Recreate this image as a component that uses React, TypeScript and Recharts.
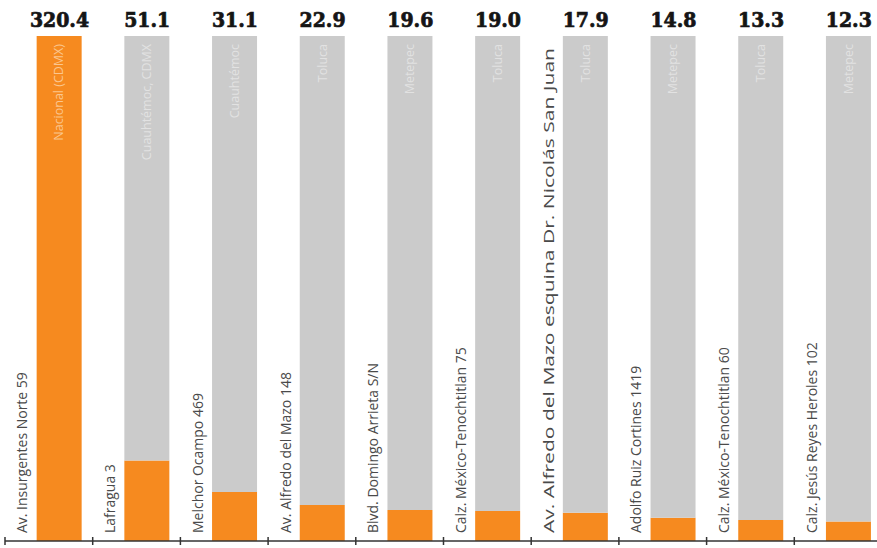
import React from 'react';
import { BarChart, Bar, XAxis, YAxis } from 'recharts';

// direcciones (eje X)
const addresses = [
  'Av. Insurgentes Norte 59',
  'Lafragua 3',
  'Melchor Ocampo 469',
  'Av. Alfredo del Mazo 148',
  'Blvd. Domingo Arrieta S/N',
  'Calz. México-Tenochtitlan 75',
  'Av. Alfredo del Mazo esquina Dr. Nicolás San Juan',
  'Adolfo Ruiz Cortines 1419',
  'Calz. México-Tenochtitlan 60',
  'Calz. Jesús Reyes Heroles 102',
];

// texto tenue dentro de cada barra
const areas = [
  'Nacional (CDMX)',
  'Cuauhtémoc, CDMX',
  'Cuauhtémoc',
  'Toluca',
  'Metepec',
  'Toluca',
  'Toluca',
  'Metepec',
  'Toluca',
  'Metepec',
];

const values = [320.4, 51.1, 31.1, 22.9, 19.6, 19.0, 17.9, 14.8, 13.3, 12.3];

const MAX = Math.max(...values);

const data = addresses.map((address, i) => ({
  address,
  area: areas[i],
  value: values[i],
  rest: MAX - values[i],
}));

const BAND = 87.7;
const BAR = 45;
const SHIFT = 10.65; // barras desplazadas a la derecha dentro de cada columna
const MARGIN = { top: 0, right: 0, bottom: 0, left: 5 + SHIFT };
const WIDTH = MARGIN.left + BAND * addresses.length;
const HEIGHT = 548;

const ORANGE = '#f68a1f';
const GREY = '#cbcbcb';

const AddressTick = (props: any) => {
  const { x, y, payload } = props;
  const lx = x - 32;
  const ly = y - 8;
  const bx = x - BAND / 2 - SHIFT;
  const long = String(payload.value).length > 40;
  return (
    <g>
      <line x1={bx} x2={bx + BAND} y1={y} y2={y} stroke="#333" strokeWidth={1.5} />
      <line x1={bx} x2={bx} y1={y - 4} y2={y + 4} stroke="#333" strokeWidth={1.5} />
      <text
        x={lx}
        y={ly}
        transform={`rotate(-90, ${lx}, ${ly})`}
        textAnchor="start"
        fontFamily="'Open Sans', sans-serif"
        fontSize={14}
        fill="#4a4a4a"
        {...(long ? { textLength: 485, lengthAdjust: 'spacingAndGlyphs' } : {})}
      >
        {payload.value}
      </text>
    </g>
  );
};

const TopTick = (props: any) => {
  const { x, y, payload, index } = props;
  const tx = x + 4;
  const ty = y + 8;
  return (
    <g>
      <text
        x={x}
        y={y - 9}
        textAnchor="middle"
        fontFamily="'DejaVu Serif Condensed', 'DejaVu Serif', serif"
        fontStretch="condensed"
        fontWeight="bold"
        fontSize={21}
        fill="#151515"
        stroke="#151515"
        strokeWidth={0.7}
      >
        {Number(payload.value).toFixed(1)}
      </text>
      <text
        x={tx}
        y={ty}
        transform={`rotate(-90, ${tx}, ${ty})`}
        textAnchor="end"
        fontFamily="'Open Sans', sans-serif"
        fontSize={12.5}
        fill={index === 0 ? '#fbc68e' : '#e2e2e2'}
      >
        {areas[index]}
      </text>
    </g>
  );
};

export default function App() {
  return (
    <div
      style={{
        position: 'absolute',
        left: 0,
        top: 0,
        width: 877,
        height: 548,
        overflow: 'hidden',
        background: '#fff',
      }}
    >
      <BarChart width={WIDTH} height={HEIGHT} data={data} margin={MARGIN}>
        <XAxis
          dataKey="address"
          height={7}
          interval={0}
          tickLine={false}
          tickSize={0}
          tickMargin={0}
          axisLine={false}
          tick={<AddressTick />}
        />
        <XAxis
          xAxisId="top"
          orientation="top"
          dataKey="value"
          height={36}
          interval={0}
          tickLine={false}
          tickSize={0}
          tickMargin={0}
          axisLine={false}
          tick={<TopTick />}
        />
        <YAxis hide domain={[0, MAX]} />
        <Bar dataKey="value" stackId="a" barSize={BAR} fill={ORANGE} isAnimationActive={false} />
        <Bar dataKey="rest" stackId="a" barSize={BAR} fill={GREY} isAnimationActive={false} />
      </BarChart>
    </div>
  );
}
